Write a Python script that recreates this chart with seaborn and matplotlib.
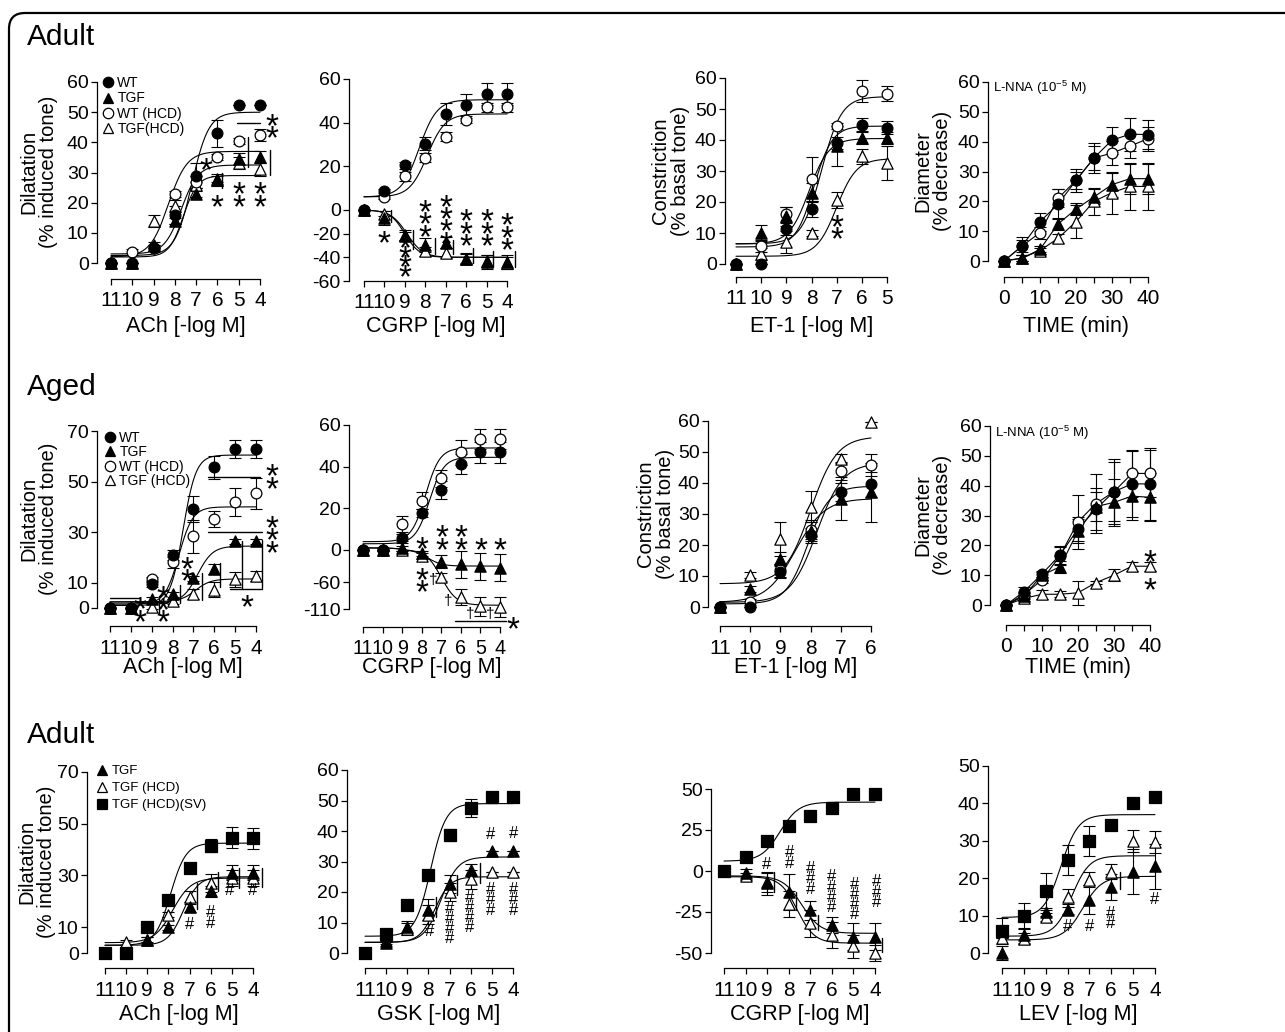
import numpy as np
import matplotlib
matplotlib.use("Agg")
import matplotlib.pyplot as plt
import seaborn as sns
from matplotlib.patches import FancyBboxPatch
from matplotlib.lines import Line2D
from matplotlib.transforms import IdentityTransform

# ------------------------------------------------------------------ data
dose8 = [11, 10, 9, 8, 7, 6, 5, 4]
dose7 = [11, 10, 9, 8, 7, 6, 5]
dose6 = [11, 10, 9, 8, 7, 6]
time_min = [0, 5, 10, 15, 20, 25, 30, 35, 40]
dose8_labels = ["11", "10", "9", "8", "7", "6", "5", "4"]
dose7_labels = ["11", "10", "9", "8", "7", "6", "5"]
dose6_labels = ["11", "10", "9", "8", "7", "6"]
time_labels = ["0", "", "10", "", "20", "", "30", "", "40"]

row_titles = ["Adult", "Aged", "Adult"]

# --- Adult ACh
adult_ach_wt = [0, 0, 5, 16, 29, 43, 52.5, 52.5]
adult_ach_wt_err = [0, 0, 1, 3, 4, 4.5, 0, 0]
adult_ach_tgf = [0, 0, 6, 14, 23, 27.5, 34.5, 35]
adult_ach_tgf_err = [0, 0, 1, 1, 1, 2, 2, 2]
adult_ach_wthcd = [0, 3.5, 5, 23, 27, 35, 40.5, 42.5]
adult_ach_wthcd_err = [0, 1, 1, 1, 2, 1, 1, 2]
adult_ach_tgfhcd = [0, 0, 14, 19, 26, 28, 33, 31]
adult_ach_tgfhcd_err = [0, 0, 2, 2, 1, 1, 2, 2]
adult_ach_fit_wt = [2.5, 50, 7.2, 1.1]
adult_ach_fit_tgf = [2, 29, 7.6, 1.3]
adult_ach_fit_wthcd = [2, 37, 8.3, 1.0]
adult_ach_fit_tgfhcd = [3, 32.5, 7.7, 1.1]

# --- Adult CGRP
adult_cgrp_wt = [0, 8.6, 20.5, 30.3, 44, 48, 53, 53]
adult_cgrp_wt_err = [0, 1, 1.5, 3, 5, 5, 5, 5]
adult_cgrp_wthcd = [0, 6, 15.5, 24, 33.5, 41, 47, 47]
adult_cgrp_wthcd_err = [0, 1, 2, 2, 2, 1, 2, 2]
adult_cgrp_tgf = [0, -7, -21.5, -29.8, -27.5, -41, -44, -44]
adult_cgrp_tgf_err = [0, 6, 5, 6, 5, 5, 6, 6]
adult_cgrp_tgfhcd = [0, -3, -22, -35, -36.5, -41, -43, -45]
adult_cgrp_tgfhcd_err = [0, 2, 3, 4, 4, 4, 5, 5]
adult_cgrp_fit_wt = [6, 50.5, 8.3, 1.0]
adult_cgrp_fit_wthcd = [6, 44, 7.9, 1.0]
adult_cgrp_fit_tgf = [0, -40, 9.0, 1.2]
adult_cgrp_fit_tgfhcd = [0, -40, 8.9, 1.1]

# --- Adult ET-1
adult_et_wt = [0, 0, 11.3, 17.7, 39, 45, 44]
adult_et_wt_err = [0, 0, 2, 2.5, 2, 2, 2]
adult_et_tgf = [0, 10, 15.4, 23, 38, 40.6, 40.6]
adult_et_tgf_err = [0, 2.5, 3, 3, 6.5, 2, 2]
adult_et_wthcd = [0, 5.9, 16, 27.4, 44.6, 55.7, 55]
adult_et_wthcd_err = [0, 2, 2.5, 7, 1, 3.5, 2.5]
adult_et_tgfhcd = [0, 3.3, 7, 10, 20.7, 34.7, 32.6]
adult_et_tgfhcd_err = [0, 2, 3.5, 1, 2.5, 2.5, 5.5]
adult_et_fit_wt = [5.5, 44.5, 7.9, 1.2]
adult_et_fit_tgf = [6.5, 40.5, 8.1, 1.1]
adult_et_fit_wthcd = [6.5, 54, 7.6, 1.1]
adult_et_fit_tgfhcd = [2.5, 34, 7.0, 1.1]

# --- Adult L-NNA time course
adult_lnna_wt = [0, 5, 13.2, 19, 27, 34.6, 40.5, 42.5, 42.4]
adult_lnna_wt_err = [0, 3, 3, 5, 4, 5, 4.5, 5.5, 5]
adult_lnna_wthcd = [0, 5, 9.5, 21, 27, 34.5, 36.2, 38.5, 41]
adult_lnna_wthcd_err = [0, 2, 2, 3, 3, 4, 4, 4, 4]
adult_lnna_tgf = [0, 0.9, 3.9, 12.4, 17.4, 21.5, 25.6, 27.6, 27.6]
adult_lnna_tgf_err = [0, 1, 1, 2, 2, 2.5, 4, 5, 5]
adult_lnna_tgfhcd = [0, 1, 3.5, 7.6, 13.2, 20, 22.9, 25, 25]
adult_lnna_tgfhcd_err = [0, 1, 1, 1.5, 5.5, 4.5, 7, 8, 8]

# --- Aged ACh
aged_ach_wt = [0, 0, 9.5, 21, 39.2, 55.6, 63, 63]
aged_ach_wt_err = [0, 0, 1, 2, 5, 4.5, 3.5, 3.5]
aged_ach_tgf = [0, 0, 3.5, 5.5, 11.8, 15.4, 26.3, 26.3]
aged_ach_tgf_err = [0, 0, 1, 1, 1, 2, 1, 1]
aged_ach_wthcd = [0, 0, 11.4, 18, 28.3, 35.2, 42, 45.3]
aged_ach_wthcd_err = [0, 0, 1, 2, 6.5, 3, 5.5, 6]
aged_ach_tgfhcd = [0, 0, 0.5, 2.6, 5.5, 7.2, 11.4, 12.5]
aged_ach_tgfhcd_err = [0, 0, 1, 1, 2, 3, 3, 2]
aged_ach_fit_wt = [1, 60.5, 7.5, 1.4]
aged_ach_fit_tgf = [2, 24.5, 6.8, 1.2]
aged_ach_fit_wthcd = [1.5, 40, 7.7, 1.3]
aged_ach_fit_tgfhcd = [2.5, 11.5, 6.9, 1.2]

# --- Aged CGRP
aged_cgrp_wt = [0, 0, 5.6, 17.9, 28.8, 41.3, 46.9, 46.9]
aged_cgrp_wt_err = [0, 0, 2, 2, 4.5, 5, 5, 5]
aged_cgrp_wthcd = [0, 0, 12.5, 23.7, 34.4, 46.9, 53.3, 53.3]
aged_cgrp_wthcd_err = [0, 0, 4, 4, 4, 6, 5, 5]
aged_cgrp_tgf = [0, 0, 1.1, -6, -22, -27, -30, -33]
aged_cgrp_tgf_err = [0, 1, 3, 5, 12, 25, 25, 25]
aged_cgrp_tgfhcd = [0, 0, 0, -11, -50, -87.5, -105, -106]
aged_cgrp_tgfhcd_err = [0, 1, 2, 5, 8, 15, 18, 18]
aged_cgrp_fit_wt = [3, 44.5, 7.6, 1.2]
aged_cgrp_fit_wthcd = [4, 49, 7.8, 1.2]
aged_cgrp_fit_tgf = [1, -30, 7.7, 1.2]
aged_cgrp_fit_tgfhcd = [1, -103, 7.0, 1.1]

# --- Aged ET-1
aged_et_wt = [0, 0, 11.3, 23.1, 37.1, 39.6]
aged_et_wt_err = [0, 0, 2, 2.5, 3, 4]
aged_et_tgf = [0, 5.9, 15.6, 24.4, 35, 37]
aged_et_tgf_err = [0, 1, 2, 3, 7, 9.5]
aged_et_wthcd = [0, 1.5, 11.8, 25, 43.9, 45.9]
aged_et_wthcd_err = [0, 1, 2, 3, 3, 3.5]
aged_et_tgfhcd = [0, 10.2, 22, 32.3, 47.8, 59.7]
aged_et_tgfhcd_err = [0, 1, 5.5, 5, 1.5, 0]
aged_et_fit_wt = [1, 39, 8.1, 1.2]
aged_et_fit_tgf = [1.5, 35, 8.5, 0.9]
aged_et_fit_wthcd = [1.5, 46.5, 7.8, 1.0]
aged_et_fit_tgfhcd = [7.5, 55, 8.0, 1.0]

# --- Aged L-NNA time course
aged_lnna_wt = [0, 4.5, 10.4, 16.8, 25.5, 32.2, 38, 40.6, 40.6]
aged_lnna_wt_err = [0, 1.5, 1, 3, 4, 7, 10, 11, 12]
aged_lnna_wthcd = [0, 3.5, 8.4, 16.5, 27.9, 34, 38, 44.1, 44.1]
aged_lnna_wthcd_err = [0, 1, 1, 3, 9, 10, 11, 8, 8]
aged_lnna_tgf = [0, 3, 10, 12.8, 24.8, 33, 34.4, 36.5, 36.1]
aged_lnna_tgf_err = [0, 1, 1, 2, 4, 5, 8, 8, 8]
aged_lnna_tgfhcd = [0, 2.2, 3.6, 3.6, 4.1, 7.5, 10, 13, 13]
aged_lnna_tgfhcd_err = [0, 1, 1.5, 1, 4, 0.5, 2, 1.5, 1.5]

# --- Adult, rescue: ACh
sv_ach_tgf = [0, 0, 5.1, 10, 17.7, 23.8, 31.1, 31.1]
sv_ach_tgf_err = [0, 0, 1, 1, 2, 2, 3, 3]
sv_ach_tgfhcd = [0, 4.2, 5, 14.8, 21.6, 27.2, 29, 29]
sv_ach_tgfhcd_err = [0, 1, 1, 1, 2.5, 3.5, 3, 3]
sv_ach_sv = [0, 0, 10, 20.5, 32.8, 41.5, 44.6, 44.3]
sv_ach_sv_err = [0, 0, 1, 1, 1, 2.5, 4, 4]
sv_ach_fit_tgf = [3, 29.5, 7.3, 1.2]
sv_ach_fit_tgfhcd = [4, 29, 7.8, 1.0]
sv_ach_fit_sv = [3, 42.5, 7.9, 1.2]

# --- GSK
sv_gsk_tgf = [0, 3.4, 8.5, 14.2, 22.6, 27.2, 33.5, 33.5]
sv_gsk_tgf_err = [0, 0.5, 2, 3.5, 3, 2, 0, 0]
sv_gsk_tgfhcd = [0, 4, 8, 12.6, 20, 24.1, 26.6, 26.6]
sv_gsk_tgfhcd_err = [0, 0.5, 2, 3, 3, 3, 0, 0]
sv_gsk_sv = [0, 6.1, 15.7, 25.5, 38.7, 47.6, 51.3, 51.3]
sv_gsk_sv_err = [0, 0, 1, 1, 2, 3, 0, 0]
sv_gsk_fit_tgf = [3.5, 31.5, 7.4, 1.1]
sv_gsk_fit_tgfhcd = [3.5, 25, 7.7, 1.2]
sv_gsk_fit_sv = [5.5, 49, 7.9, 1.2]

# --- CGRP (rescue)
sv_cgrp_tgf = [0, -1, -7.5, -13, -24, -33, -40, -40]
sv_cgrp_tgf_err = [0, 2, 7, 11, 6, 5, 8, 8]
sv_cgrp_tgfhcd = [0, -3.2, -7, -20, -32, -39, -46, -50]
sv_cgrp_tgfhcd_err = [0, 2, 6, 8, 8, 8, 7, 5]
sv_cgrp_sv = [0, 8.3, 18.5, 27.6, 33.3, 38.7, 46.9, 46.9]
sv_cgrp_sv_err = [0, 0, 0, 0, 0, 0, 0, 0]
sv_cgrp_fit_tgf = [-3, -38, 7.4, 1.0]
sv_cgrp_fit_tgfhcd = [-3.5, -44, 7.6, 1.1]
sv_cgrp_fit_sv = [6, 42, 8.4, 1.0]

# --- LEV
sv_lev_tgf = [0, 4.7, 11, 11.4, 14.3, 17.7, 21.7, 23.2]
sv_lev_tgf_err = [2, 2, 1, 1, 4, 3.5, 6, 6]
sv_lev_tgfhcd = [4, 3.8, 9.6, 15, 19.6, 21.7, 30, 29.7]
sv_lev_tgfhcd_err = [0, 1.5, 1, 2, 2, 2, 3, 3]
sv_lev_sv = [5.9, 9.9, 16.5, 24.8, 30, 34.2, 40, 41.6]
sv_lev_sv_err = [3.5, 3.5, 5, 4, 4, 1, 0, 0]
sv_lev_fit_tgf = [3.5, 20.5, 7.3, 1.0]
sv_lev_fit_tgfhcd = [4.5, 26, 7.8, 1.1]
sv_lev_fit_sv = [9.5, 37, 8.3, 1.1]

# --- significance marks (x, y, symbols stacked vertically[, gap between symbols in pt])
ann_adult_ach = [(6.55, 33.6, "*"), (6.0, 21.5, "*"), (5.0, 23.6, "**"), (4.0, 23.6, "**"), (3.45, 46.3, "**")]
ann_adult_cgrp = [(10.0, -21, "*"), (9.0, -37, "****", 7.0), (8.0, -5, "***"), (7.0, -5.6, "****"),
                  (6.0, -12.7, "***"), (5.0, -12.7, "***"), (4.0, -16, "***")]
ann_adult_et = [(7.0, 12.7, "**")]
ann_aged_ach = [(3.25, 53, "**"), (3.25, 30.2, "***"), (4.45, 3.9, "*"), (9.56, 0.4, "**"),
                (8.44, 2.6, "***"), (7.33, 16.4, "**")]
ann_aged_cgrp = [(8.0, 4.8, "*"), (6.98, 7.2, "**"), (6.0, 7.2, "**"), (4.97, 4.0, "*"), (4.0, 4.0, "*"),
                 (8.0, -51, "**"), (7.4, -55, "†"), (6.64, -94, "†"), (5.53, -119, "†"), (4.51, -119, "†"),
                 (3.35, -132, "*")]
ann_aged_lnna = [(40, 12.5, "**", 20.5)]
ann_sv_ach = [(6.98, 11.6, "#"), (6.0, 14.1, "##"), (5.09, 24.7, "#"), (4.01, 24.7, "#")]
ann_sv_gsk = [(7.93, 7.4, "#"), (6.98, 10.2, "####"), (6.04, 13.8, "####"), (5.05, 39.2, "#"),
              (5.05, 17.9, "###"), (3.98, 39.8, "#"), (3.98, 17.9, "###")]
ann_sv_cgrp = [(9.02, 4.7, "#"), (7.97, 8.9, "##"), (6.97, -3.9, "###"), (6.0, -12, "####"),
               (4.93, -16.4, "####"), (3.95, -12, "###")]
ann_sv_lev = [(8.0, 7.4, "#"), (7.0, 7.4, "#"), (6.05, 9.6, "##"), (4.0, 14.6, "#")]

# bracket segments: vertical (x, y0, y1) and horizontal (y, x0, x1)
vb_adult_ach = [(4.55, 31.9, 41.9), (3.55, 29.2, 37.4), (5.8, 24.8, 29.7)]
hb_adult_ach = [(46.3, 5.1, 4.0)]
vb_adult_cgrp = [(9.69, -10, 0), (8.59, -33, -17), (7.52, -37, -24), (6.63, -37, -25),
                 (5.65, -45, -32), (4.70, -48, -35), (3.61, -48, -35)]
vb_aged_ach = [(8.64, -2, 4.9), (7.64, 2, 9.2), (6.6, 3.3, 13.8), (5.73, 8.5, 17.7), (4.69, 7.9, 26.3), (3.73, 7.9, 26.9)]
hb_aged_ach = [(51.9, 6.29, 3.81), (30.2, 6.29, 3.72), (7.5, 5.25, 3.72), (3.9, 11.0, 9.6)]
hb_aged_cgrp = [(-133, 6.3, 3.7)]
vb_sv_ach = [(6.63, 17, 27), (5.64, 23.8, 31.5), (4.65, 25, 32.8), (3.59, 25.7, 32.8)]
vb_sv_gsk = [(7.64, 11.8, 18.4), (6.63, 18.9, 25.5), (5.56, 22.8, 29.4)]
vb_sv_cgrp = [(8.68, -13, -0.8), (7.66, -24, -13), (6.63, -36, -27), (3.69, -49.5, -41)]
vb_sv_lev = [(5.6, 17.2, 21.7)]

# ------------------------------------------------------------------ style
sns.set_theme(style="ticks")
plt.rcParams["font.family"] = ["Liberation Sans", "DejaVu Sans"]
plt.rcParams["mathtext.default"] = "regular"
for k in ["text.color", "axes.labelcolor", "xtick.color", "ytick.color", "axes.edgecolor"]:
    plt.rcParams[k] = "black"

W, H = 1285, 1032
fig = plt.figure(figsize=(W / 100, H / 100), dpi=100)
fig.patch.set_facecolor("white")

STYLE = {"WT": ("o", "black", 60), "TGF": ("^", "black", 66), "WT (HCD)": ("o", "white", 60),
         "TGF (HCD)": ("^", "white", 66), "SV": ("s", "black", 66)}
DRAW_ORDER = ["TGF (HCD)", "WT (HCD)", "TGF", "WT", "SV"]
# symbol: (fontsize, glyph-centre offset in em, default gap between stacked symbols in pt)
SYM = {"*": (24, -0.31, 9.0), "#": (12, -0.09, 7.8), "†": (11, -0.03, 9.0)}


def sigmoid(xs, p):
    b, t, m, h = p
    return b + (t - b) / (1 + 10 ** ((xs - m) * h))


def place(ax, L, B, R, T, xmap, ymap, neg=None):
    ax.set_position([L / W, 1 - B / H, (R - L) / W, (B - T) / H])
    xa, xpa, xb, xpb = xmap
    sx = (xpb - xpa) / (xb - xa)
    ax.set_xlim(xa + (L - xpa) / sx, xa + (R - xpa) / sx)
    if neg:
        def fwd(v, r=neg):
            v = np.asarray(v, float)
            return np.where(v >= 0, v, v * r)

        def inv(v, r=neg):
            v = np.asarray(v, float)
            return np.where(v >= 0, v, v / r)
        ax.set_yscale("function", functions=(fwd, inv))
    else:
        def fwd(v):
            return np.asarray(v, float)
        inv = fwd
    ya, ypa, yb, ypb = ymap
    fa, fb = float(fwd(ya)), float(fwd(yb))
    sy = (ypb - ypa) / (fb - fa)
    ax.set_ylim(float(inv(fa + (B - ypa) / sy)), float(inv(fa + (T - ypa) / sy)))


def panel(spec):
    L, B, R, T = spec["geom"]
    ax = fig.add_axes([L / W, 1 - B / H, (R - L) / W, (B - T) / H])
    xs_fit = np.linspace(spec["xticks"][0], spec["xticks"][-1], 300)
    series = sorted(spec["series"], key=lambda s: DRAW_ORDER.index(s[0]))
    for kind, x, y, err, fit in series:
        if fit is not None:
            sns.lineplot(x=xs_fit, y=sigmoid(xs_fit, fit), ax=ax, color="black", linewidth=0.8, zorder=1)
        if spec.get("connect"):
            sns.lineplot(x=x, y=y, ax=ax, color="black", linewidth=0.8, zorder=1)
    for kind, x, y, err, fit in series:
        eb = ax.errorbar(x, y, yerr=err, fmt="none", ecolor="black", elinewidth=0.8, capsize=4, capthick=0.8, zorder=2)
        for a in eb.get_children():
            a.set_clip_on(False)
    for kind, x, y, err, fit in series:
        m, fc, s = STYLE[kind]
        sns.scatterplot(x=x, y=y, marker=m, s=s, color=fc, edgecolor="black", linewidth=0.9,
                        ax=ax, zorder=3, clip_on=False, legend=False)
    for (xv, y0, y1) in spec.get("vbars", []):
        ax.plot([xv, xv], [y0, y1], color="black", lw=1.0, clip_on=False)
    for (yv, x0, x1) in spec.get("hbars", []):
        ax.plot([x0, x1], [yv, yv], color="black", lw=1.0, clip_on=False)
    for item in spec.get("ann", []):
        xv, yv, s = item[:3]
        fs, off, gap = SYM[s[0]]
        if len(item) > 3:
            gap = item[3]
        ls = max((gap - 0.21 * fs) / (0.73 * fs), 0.01)
        ax.annotate("\n".join(s), (xv, yv), xytext=(0, off * fs), textcoords="offset points",
                    ha="center", va="center", fontsize=fs, linespacing=ls, annotation_clip=False,
                    family=["Liberation Sans", "DejaVu Sans"])
    for ln in ax.lines:
        ln.set_clip_on(False)

    place(ax, L, B, R, T, spec["xmap"], spec["ymap"], spec.get("neg"))
    xt = spec["xticks"]
    yt = spec["yticks"]
    ax.set_xticks(xt)
    ax.set_xticklabels(spec["xticklabels"])
    ax.set_yticks(yt)
    ax.set_yticklabels([str(v) for v in yt])
    ax.minorticks_off()
    for side in ["top", "right"]:
        ax.spines[side].set_visible(False)
    ax.spines["left"].set_bounds(min(yt), max(yt))
    ax.spines["bottom"].set_bounds(min(xt), max(xt))
    for side in ["left", "bottom"]:
        ax.spines[side].set_linewidth(0.9)
        ax.spines[side].set_color("black")
    ax.tick_params(axis="x", direction="out", length=4, width=0.9, pad=5, labelsize=spec.get("xtick_size", 15))
    ax.tick_params(axis="y", direction="out", length=4, width=0.9, pad=2, labelsize=14)
    ax.patch.set_alpha(0)

    xa, xpa, xb, xpb = spec["xmap"]
    xc = ((xpa + xpb) / 2 - L) / (R - L)
    ax.set_xlabel(spec["xlabel"], fontsize=15.5)
    ax.xaxis.set_label_coords(xc, (B - spec["xlabel_top"]) / (B - T))
    if spec.get("ylabel"):
        ax.set_ylabel(spec["ylabel"], fontsize=14.5, linespacing=1.05)
        ax.yaxis.set_label_coords((spec["ylabel_right"] - L) / (R - L),
                                  (B - spec["ylabel_center"]) / (B - T))
    else:
        ax.set_ylabel("")
    return ax


dil = "Dilatation\n(% induced tone)"
con = "Constriction\n(% basal tone)"
dia = "Diameter\n(% decrease)"

panels = [
    dict(geom=(97, 279, 275, 76), xmap=(11, 111, 4, 260), ymap=(0, 263, 60, 82),
         xticks=dose8, xticklabels=dose8_labels, yticks=[0, 10, 20, 30, 40, 50, 60],
         xlabel="ACh [-log M]", xlabel_top=316, ylabel=dil, ylabel_right=58, ylabel_center=172,
         series=[("WT", dose8, adult_ach_wt, adult_ach_wt_err, adult_ach_fit_wt),
                 ("TGF", dose8, adult_ach_tgf, adult_ach_tgf_err, adult_ach_fit_tgf),
                 ("WT (HCD)", dose8, adult_ach_wthcd, adult_ach_wthcd_err, adult_ach_fit_wthcd),
                 ("TGF (HCD)", dose8, adult_ach_tgfhcd, adult_ach_tgfhcd_err, adult_ach_fit_tgfhcd)],
         ann=ann_adult_ach, vbars=vb_adult_ach, hbars=hb_adult_ach),
    dict(geom=(349, 281, 520, 74), xmap=(11, 364, 4, 507), ymap=(0, 210, 60, 79), neg=0.542,
         xticks=dose8, xticklabels=dose8_labels, yticks=[-60, -40, -20, 0, 20, 40, 60],
         xlabel="CGRP [-log M]", xlabel_top=316,
         series=[("WT", dose8, adult_cgrp_wt, adult_cgrp_wt_err, adult_cgrp_fit_wt),
                 ("TGF", dose8, adult_cgrp_tgf, adult_cgrp_tgf_err, adult_cgrp_fit_tgf),
                 ("WT (HCD)", dose8, adult_cgrp_wthcd, adult_cgrp_wthcd_err, adult_cgrp_fit_wthcd),
                 ("TGF (HCD)", dose8, adult_cgrp_tgfhcd, adult_cgrp_tgfhcd_err, adult_cgrp_fit_tgfhcd)],
         ann=ann_adult_cgrp, vbars=vb_adult_cgrp),
    dict(geom=(725, 277, 900, 74), xmap=(11, 736, 5, 887), ymap=(0, 264, 60, 78),
         xticks=dose7, xticklabels=dose7_labels, yticks=[0, 10, 20, 30, 40, 50, 60],
         xlabel="ET-1 [-log M]", xlabel_top=316, ylabel=con, ylabel_right=690, ylabel_center=171,
         series=[("WT", dose7, adult_et_wt, adult_et_wt_err, adult_et_fit_wt),
                 ("TGF", dose7, adult_et_tgf, adult_et_tgf_err, adult_et_fit_tgf),
                 ("WT (HCD)", dose7, adult_et_wthcd, adult_et_wthcd_err, adult_et_fit_wthcd),
                 ("TGF (HCD)", dose7, adult_et_tgfhcd, adult_et_tgfhcd_err, adult_et_fit_tgfhcd)],
         ann=ann_adult_et),
    dict(geom=(988, 277, 1160, 78), xmap=(0, 1004, 40, 1148), ymap=(0, 261, 60, 82),
         xticks=time_min, xticklabels=time_labels, yticks=[0, 10, 20, 30, 40, 50, 60],
         xlabel="TIME (min)", xlabel_top=316, ylabel=dia, ylabel_right=952, ylabel_center=171, connect=True,
         series=[("WT", time_min, adult_lnna_wt, adult_lnna_wt_err, None),
                 ("TGF", time_min, adult_lnna_tgf, adult_lnna_tgf_err, None),
                 ("WT (HCD)", time_min, adult_lnna_wthcd, adult_lnna_wthcd_err, None),
                 ("TGF (HCD)", time_min, adult_lnna_tgfhcd, adult_lnna_tgfhcd_err, None)]),
    dict(geom=(97, 626, 275, 425), xmap=(11, 110, 4, 256), ymap=(0, 608, 70, 431),
         xticks=dose8, xticklabels=dose8_labels, yticks=[0, 10, 30, 50, 70],
         xlabel="ACh [-log M]", xlabel_top=657, ylabel=dil, ylabel_right=58, ylabel_center=519,
         series=[("WT", dose8, aged_ach_wt, aged_ach_wt_err, aged_ach_fit_wt),
                 ("TGF", dose8, aged_ach_tgf, aged_ach_tgf_err, aged_ach_fit_tgf),
                 ("WT (HCD)", dose8, aged_ach_wthcd, aged_ach_wthcd_err, aged_ach_fit_wthcd),
                 ("TGF (HCD)", dose8, aged_ach_tgfhcd, aged_ach_tgfhcd_err, aged_ach_fit_tgfhcd)],
         ann=ann_aged_ach, vbars=vb_aged_ach, hbars=hb_aged_ach),
    dict(geom=(349, 627, 515, 419), xmap=(11, 363, 4, 500), ymap=(0, 550, 60, 425), neg=0.2575,
         xticks=dose8, xticklabels=dose8_labels, yticks=[-110, -60, 0, 20, 40, 60], xtick_size=14.2,
         xlabel="CGRP [-log M]", xlabel_top=657,
         series=[("WT", dose8, aged_cgrp_wt, aged_cgrp_wt_err, aged_cgrp_fit_wt),
                 ("TGF", dose8, aged_cgrp_tgf, aged_cgrp_tgf_err, aged_cgrp_fit_tgf),
                 ("WT (HCD)", dose8, aged_cgrp_wthcd, aged_cgrp_wthcd_err, aged_cgrp_fit_wthcd),
                 ("TGF (HCD)", dose8, aged_cgrp_tgfhcd, aged_cgrp_tgfhcd_err, aged_cgrp_fit_tgfhcd)],
         ann=ann_aged_cgrp, hbars=hb_aged_cgrp),
    dict(geom=(708, 626, 885, 414), xmap=(11, 720, 6, 871), ymap=(0, 607, 60, 421),
         xticks=dose6, xticklabels=dose6_labels, yticks=[0, 10, 20, 30, 40, 50, 60],
         xlabel="ET-1 [-log M]", xlabel_top=657, ylabel=con, ylabel_right=675, ylabel_center=514,
         series=[("WT", dose6, aged_et_wt, aged_et_wt_err, aged_et_fit_wt),
                 ("TGF", dose6, aged_et_tgf, aged_et_tgf_err, aged_et_fit_tgf),
                 ("WT (HCD)", dose6, aged_et_wthcd, aged_et_wthcd_err, aged_et_fit_wthcd),
                 ("TGF (HCD)", dose6, aged_et_tgfhcd, aged_et_tgfhcd_err, aged_et_fit_tgfhcd)]),
    dict(geom=(990, 625, 1165, 422), xmap=(0, 1006, 40, 1150), ymap=(0, 605, 60, 426),
         xticks=time_min, xticklabels=time_labels, yticks=[0, 10, 20, 30, 40, 50, 60],
         xlabel="TIME (min)", xlabel_top=657, ylabel=dia, ylabel_right=952, ylabel_center=515, connect=True,
         series=[("WT", time_min, aged_lnna_wt, aged_lnna_wt_err, None),
                 ("TGF", time_min, aged_lnna_tgf, aged_lnna_tgf_err, None),
                 ("WT (HCD)", time_min, aged_lnna_wthcd, aged_lnna_wthcd_err, None),
                 ("TGF (HCD)", time_min, aged_lnna_tgfhcd, aged_lnna_tgfhcd_err, None)],
         ann=ann_aged_lnna),
    dict(geom=(87, 968, 270, 766), xmap=(11, 105, 4, 253), ymap=(0, 953, 70, 772),
         xticks=dose8, xticklabels=dose8_labels, yticks=[0, 10, 30, 50, 70],
         xlabel="ACh [-log M]", xlabel_top=1004, ylabel=dil, ylabel_right=56, ylabel_center=862,
         series=[("TGF", dose8, sv_ach_tgf, sv_ach_tgf_err, sv_ach_fit_tgf),
                 ("TGF (HCD)", dose8, sv_ach_tgfhcd, sv_ach_tgfhcd_err, sv_ach_fit_tgfhcd),
                 ("SV", dose8, sv_ach_sv, sv_ach_sv_err, sv_ach_fit_sv)],
         ann=ann_sv_ach, vbars=vb_sv_ach),
    dict(geom=(347, 968, 525, 764), xmap=(11, 365, 4, 513), ymap=(0, 953, 60, 770),
         xticks=dose8, xticklabels=dose8_labels, yticks=[0, 10, 20, 30, 40, 50, 60],
         xlabel="GSK [-log M]", xlabel_top=1004,
         series=[("TGF", dose8, sv_gsk_tgf, sv_gsk_tgf_err, sv_gsk_fit_tgf),
                 ("TGF (HCD)", dose8, sv_gsk_tgfhcd, sv_gsk_tgfhcd_err, sv_gsk_fit_tgfhcd),
                 ("SV", dose8, sv_gsk_sv, sv_gsk_sv_err, sv_gsk_fit_sv)],
         ann=ann_sv_gsk, vbars=vb_sv_gsk),
    dict(geom=(711, 968, 890, 783), xmap=(11, 724, 4, 875), ymap=(-50, 953, 50, 789),
         xticks=dose8, xticklabels=dose8_labels, yticks=[-50, -25, 0, 25, 50],
         xlabel="CGRP [-log M]", xlabel_top=1004,
         series=[("TGF", dose8, sv_cgrp_tgf, sv_cgrp_tgf_err, sv_cgrp_fit_tgf),
                 ("TGF (HCD)", dose8, sv_cgrp_tgfhcd, sv_cgrp_tgfhcd_err, sv_cgrp_fit_tgfhcd),
                 ("SV", dose8, sv_cgrp_sv, sv_cgrp_sv_err, sv_cgrp_fit_sv)],
         ann=ann_sv_cgrp, vbars=vb_sv_cgrp),
    dict(geom=(988, 968, 1170, 762), xmap=(11, 1002, 4, 1155), ymap=(0, 953, 50, 766),
         xticks=dose8, xticklabels=dose8_labels, yticks=[0, 10, 20, 30, 40, 50],
         xlabel="LEV [-log M]", xlabel_top=1004,
         series=[("TGF", dose8, sv_lev_tgf, sv_lev_tgf_err, sv_lev_fit_tgf),
                 ("TGF (HCD)", dose8, sv_lev_tgfhcd, sv_lev_tgfhcd_err, sv_lev_fit_tgfhcd),
                 ("SV", dose8, sv_lev_sv, sv_lev_sv_err, sv_lev_fit_sv)],
         ann=ann_sv_lev, vbars=vb_sv_lev),
]

axes = [panel(p) for p in panels]

for px, py in [(993, 88), (995, 433)]:
    fig.text(px / W, 1 - py / H, "L-NNA (10$^{-5}$ M)", fontsize=9.5, ha="left", va="center")


def handle(kind):
    m, fc, s = STYLE[kind]
    return Line2D([], [], marker=m, linestyle="none", markerfacecolor=fc, markeredgecolor="black",
                  markeredgewidth=0.9, markersize=7.5)


legend_specs = [
    (["WT", "TGF", "WT (HCD)", "TGF (HCD)"], ["WT", "TGF", "WT (HCD)", "TGF(HCD)"], (102, 76), 10, 0.1),
    (["WT", "TGF", "WT (HCD)", "TGF (HCD)"], ["WT", "TGF", "WT (HCD)", "TGF (HCD)"], (104, 431), 10, 0.02),
    (["TGF", "TGF (HCD)", "SV"], ["TGF", "TGF (HCD)", "TGF (HCD)(SV)"], (97, 765), 9.5, 0.36),
]
for kinds, labels, (lx, ly), fs, sp in legend_specs:
    fig.legend([handle(k) for k in kinds], labels, loc="upper left", bbox_to_anchor=(lx / W, 1 - ly / H),
               frameon=False, fontsize=fs, handlelength=0.8, handletextpad=0.3, labelspacing=sp,
               borderpad=0, borderaxespad=0)

for title, ty in zip(row_titles, [23, 373, 721]):
    fig.text(27 / W, 1 - ty / H, title, fontsize=21.5, ha="left", va="top")

frame = FancyBboxPatch((9, -40), 1320, 1032 - 13 + 40, boxstyle="round,pad=0,rounding_size=16",
                       transform=IdentityTransform(), fill=False, lw=1.6, ec="black")
fig.patches.append(frame)

fig.savefig("out.png", dpi=100)
